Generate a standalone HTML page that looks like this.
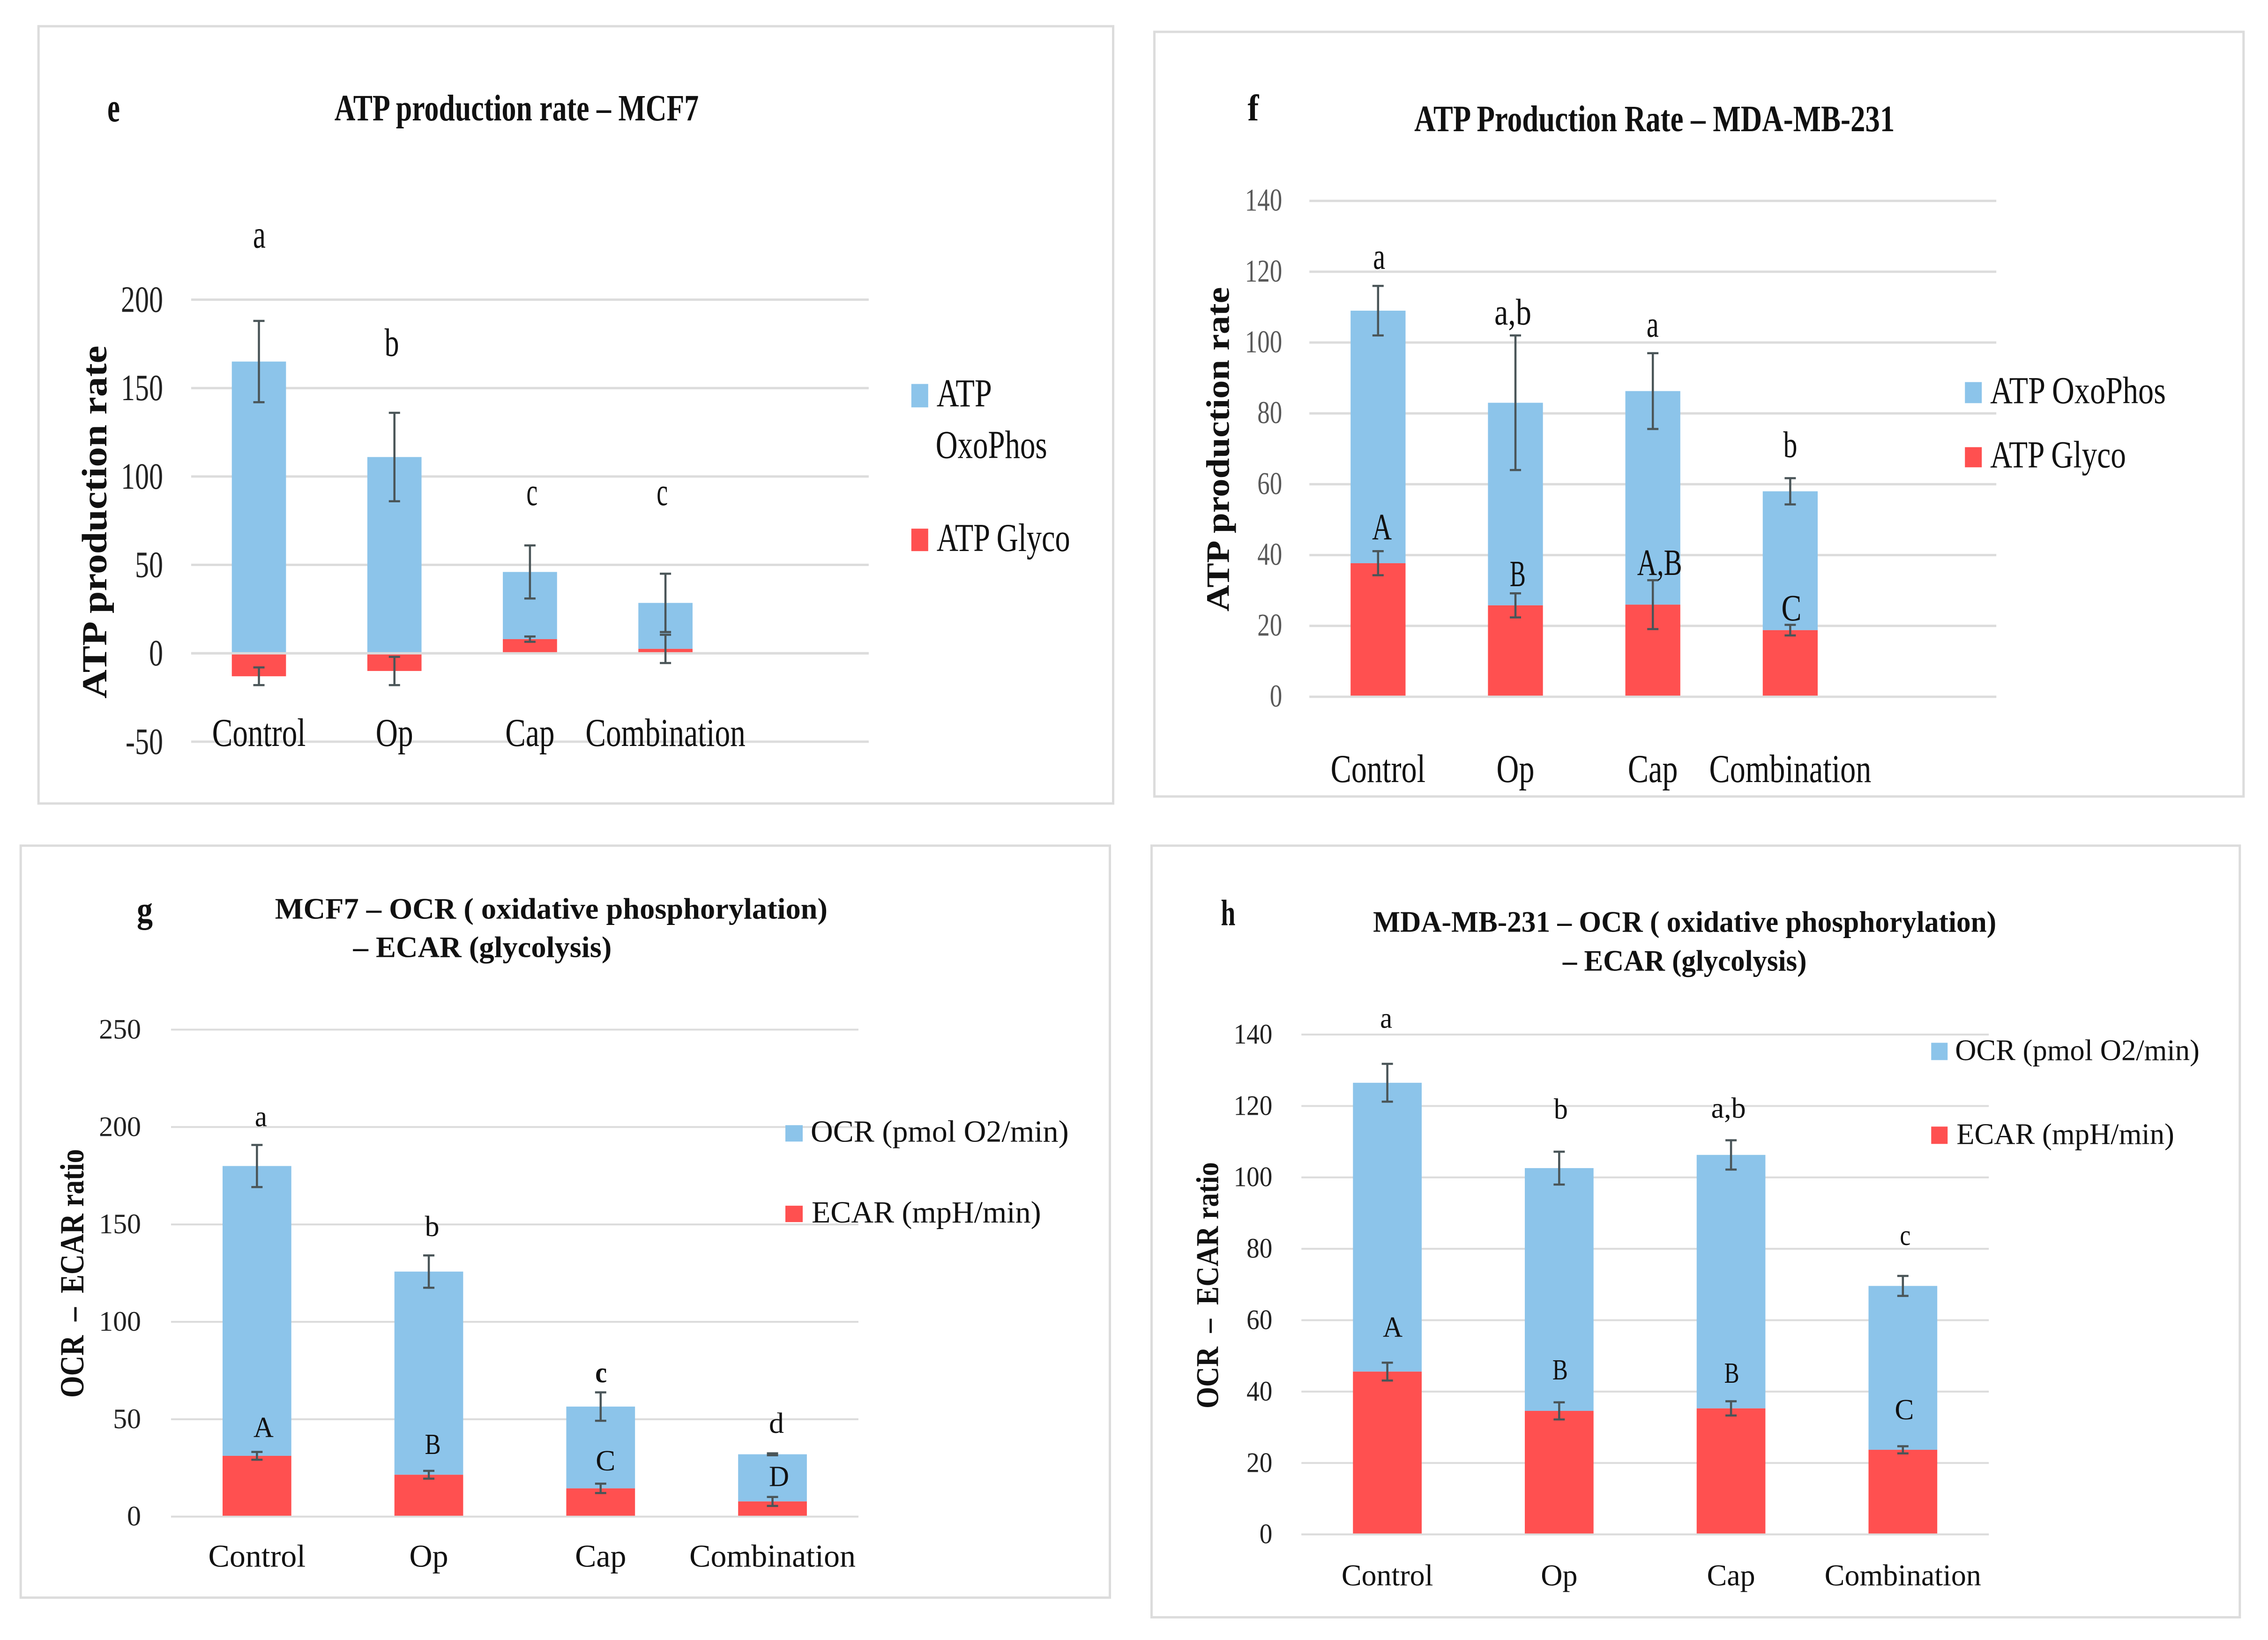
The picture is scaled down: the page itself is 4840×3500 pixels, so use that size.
<!DOCTYPE html>
<html lang="en">
<head>
<meta charset="utf-8">
<title>ATP production rate and OCR / ECAR panels</title>
<style>
html,body{margin:0;padding:0;background:#fff;width:4840px;height:3500px;overflow:hidden}
svg{display:block}
text{font-family:"Liberation Serif","DejaVu Serif",serif;fill:#111}
.b{font-weight:bold}
</style>
</head>
<body>
<svg id="figure" xmlns="http://www.w3.org/2000/svg" width="4840" height="3500" viewBox="0 0 4843 3502.5">
<rect x="0" y="0" width="4843" height="3503" fill="#fff"/>

<!-- Panel e -->
<g>
<rect x="82" y="56" width="2295" height="1660" fill="#fff" stroke="#dcdcdc" stroke-width="5"/>
<g id="plot-e"></g>
<text class="b" x="229" y="259" font-size="88" textLength="27" lengthAdjust="spacingAndGlyphs">e</text>
<text class="b" x="714" y="257" font-size="80" textLength="778" lengthAdjust="spacingAndGlyphs">ATP production rate – MCF7</text>
<text class="b" transform="translate(227,1492) rotate(-90)" font-size="75" textLength="754" lengthAdjust="spacingAndGlyphs">ATP production rate</text>
<text x="540" y="529" font-size="85" textLength="27" lengthAdjust="spacingAndGlyphs">a</text>
<text x="821" y="760" font-size="85" textLength="31" lengthAdjust="spacingAndGlyphs">b</text>
<text x="1124" y="1079" font-size="85" textLength="24" lengthAdjust="spacingAndGlyphs">c</text>
<text x="1402" y="1079" font-size="85" textLength="24" lengthAdjust="spacingAndGlyphs">c</text>
<rect x="1946" y="820" width="36" height="50" fill="#8cc4ea"/>
<text x="2000" y="868" font-size="85" textLength="118" lengthAdjust="spacingAndGlyphs">ATP</text>
<text x="1998" y="978" font-size="85" textLength="238" lengthAdjust="spacingAndGlyphs">OxoPhos</text>
<rect x="1946" y="1129" width="36" height="48" fill="#ff5050"/>
<text x="2000" y="1177" font-size="85" textLength="285" lengthAdjust="spacingAndGlyphs">ATP Glyco</text>
</g>

<!-- Panel f -->
<g>
<rect x="2465" y="68" width="2326" height="1633" fill="#fff" stroke="#dcdcdc" stroke-width="5"/>
<g id="plot-f"></g>
<text class="b" x="2664" y="257" font-size="80" textLength="24" lengthAdjust="spacingAndGlyphs">f</text>
<text class="b" x="3020" y="280" font-size="80" textLength="1026" lengthAdjust="spacingAndGlyphs">ATP Production Rate – MDA-MB-231</text>
<text class="b" transform="translate(2624,1306) rotate(-90)" font-size="70" textLength="693" lengthAdjust="spacingAndGlyphs">ATP production rate</text>
<text x="2932" y="574" font-size="80" textLength="26" lengthAdjust="spacingAndGlyphs">a</text>
<text x="3191" y="693" font-size="80" textLength="79" lengthAdjust="spacingAndGlyphs">a,b</text>
<text x="3516" y="719" font-size="80" textLength="26" lengthAdjust="spacingAndGlyphs">a</text>
<text x="3808" y="976" font-size="80" textLength="30" lengthAdjust="spacingAndGlyphs">b</text>
<text x="2930" y="1152" font-size="80" textLength="42" lengthAdjust="spacingAndGlyphs">A</text>
<text x="3224" y="1252" font-size="80" textLength="34" lengthAdjust="spacingAndGlyphs">B</text>
<text x="3496" y="1228" font-size="80" textLength="96" lengthAdjust="spacingAndGlyphs">A,B</text>
<text x="3804" y="1325" font-size="80" textLength="43" lengthAdjust="spacingAndGlyphs">C</text>
<rect x="4196" y="816" width="36" height="45" fill="#8cc4ea"/>
<text x="4250" y="861" font-size="82" textLength="375" lengthAdjust="spacingAndGlyphs">ATP OxoPhos</text>
<rect x="4196" y="955" width="36" height="43" fill="#ff5050"/>
<text x="4250" y="998" font-size="82" textLength="290" lengthAdjust="spacingAndGlyphs">ATP Glyco</text>
</g>

<!-- Panel g -->
<g>
<rect x="44" y="1806" width="2326" height="1606" fill="#fff" stroke="#dcdcdc" stroke-width="5"/>
<g id="plot-g"></g>
<text class="b" x="292" y="1969" font-size="78" textLength="34" lengthAdjust="spacingAndGlyphs">g</text>
<text class="b" x="587" y="1962" font-size="64" textLength="1180" lengthAdjust="spacingAndGlyphs">MCF7 – OCR ( oxidative phosphorylation)</text>
<text class="b" x="754" y="2044" font-size="64" textLength="552" lengthAdjust="spacingAndGlyphs">– ECAR (glycolysis)</text>
<text class="b" transform="translate(178,2985) rotate(-90)" font-size="72" textLength="531" lengthAdjust="spacingAndGlyphs">OCR&#160;&#160;–&#160;&#160;ECAR ratio</text>
<text x="544" y="2405" font-size="62" textLength="26" lengthAdjust="spacingAndGlyphs">a</text>
<text x="907" y="2640" font-size="62" textLength="31" lengthAdjust="spacingAndGlyphs">b</text>
<text class="b" x="1271" y="2952" font-size="62" textLength="25" lengthAdjust="spacingAndGlyphs">c</text>
<text x="1642" y="3060" font-size="62" textLength="32" lengthAdjust="spacingAndGlyphs">d</text>
<text x="541" y="3069" font-size="62" textLength="43" lengthAdjust="spacingAndGlyphs">A</text>
<text x="907" y="3105" font-size="62" textLength="34" lengthAdjust="spacingAndGlyphs">B</text>
<text x="1272" y="3140" font-size="62" textLength="42" lengthAdjust="spacingAndGlyphs">C</text>
<text x="1642" y="3174" font-size="62" textLength="43" lengthAdjust="spacingAndGlyphs">D</text>
<rect x="1677" y="2403" width="37" height="35" fill="#8cc4ea"/>
<text x="1731" y="2438" font-size="66" textLength="551" lengthAdjust="spacingAndGlyphs">OCR (pmol O2/min)</text>
<rect x="1677" y="2575" width="37" height="35" fill="#ff5050"/>
<text x="1733" y="2611" font-size="66" textLength="490" lengthAdjust="spacingAndGlyphs">ECAR (mpH/min)</text>
</g>

<!-- Panel h -->
<g>
<rect x="2459" y="1806" width="2324" height="1648" fill="#fff" stroke="#dcdcdc" stroke-width="5"/>
<g id="plot-h"></g>
<text class="b" x="2607" y="1976" font-size="78" textLength="31" lengthAdjust="spacingAndGlyphs">h</text>
<text class="b" x="2932" y="1990" font-size="64" textLength="1331" lengthAdjust="spacingAndGlyphs">MDA-MB-231 – OCR ( oxidative phosphorylation)</text>
<text class="b" x="3337" y="2073" font-size="64" textLength="521" lengthAdjust="spacingAndGlyphs">– ECAR (glycolysis)</text>
<text class="b" transform="translate(2601,3008) rotate(-90)" font-size="68" textLength="526" lengthAdjust="spacingAndGlyphs">OCR&#160;&#160;–&#160;&#160;ECAR ratio</text>
<text x="2947" y="2195" font-size="62" textLength="26" lengthAdjust="spacingAndGlyphs">a</text>
<text x="3318" y="2389" font-size="62" textLength="30" lengthAdjust="spacingAndGlyphs">b</text>
<text x="3654" y="2387" font-size="62" textLength="74" lengthAdjust="spacingAndGlyphs">a,b</text>
<text x="4057" y="2659" font-size="62" textLength="23" lengthAdjust="spacingAndGlyphs">c</text>
<text x="2953" y="2855" font-size="62" textLength="42" lengthAdjust="spacingAndGlyphs">A</text>
<text x="3315" y="2946" font-size="62" textLength="33" lengthAdjust="spacingAndGlyphs">B</text>
<text x="3682" y="2953" font-size="62" textLength="32" lengthAdjust="spacingAndGlyphs">B</text>
<text x="4046" y="3031" font-size="62" textLength="41" lengthAdjust="spacingAndGlyphs">C</text>
<rect x="4124" y="2227" width="35" height="37" fill="#8cc4ea"/>
<text x="4175" y="2264" font-size="64" textLength="522" lengthAdjust="spacingAndGlyphs">OCR (pmol O2/min)</text>
<rect x="4124" y="2406" width="35" height="37" fill="#ff5050"/>
<text x="4178" y="2443" font-size="64" textLength="465" lengthAdjust="spacingAndGlyphs">ECAR (mpH/min)</text>
</g>
</svg>

<script>
const categories = ['Control', 'Op', 'Cap', 'Combination'];

const eTicks = [-50, 0, 50, 100, 150, 200];
const eUpper = [165, 111, 38, 26];
const eLower = [-13, -10, 8, 2.5];
const eUpperErr = [23, 25, 15, 16.5];
const eLowerErr = [5, 8, 1.5, 8];

const fTicks = [0, 20, 40, 60, 80, 100, 120, 140];
const fUpper = [71.3, 57.2, 60.3, 39.2];
const fLower = [37.7, 25.8, 26, 18.8];
const fUpperErr = [7, 19, 10.7, 3.7];
const fLowerErr = [3.4, 3.4, 6.9, 1.5];

const gTicks = [0, 50, 100, 150, 200, 250];
const gUpper = [148.8, 104.3, 42, 24.2];
const gLower = [31.2, 21.5, 14.5, 7.8];
const gUpperErr = [10.8, 8.3, 7.3, 0.5];
const gLowerErr = [2, 2, 2.4, 2.3];

const hTicks = [0, 20, 40, 60, 80, 100, 120, 140];
const hUpper = [80.9, 68, 71, 45.9];
const hLower = [45.6, 34.6, 35.3, 23.7];
const hUpperErr = [5.3, 4.6, 4.1, 2.8];
const hLowerErr = [2.5, 2.4, 2, 1];

const NS = 'http://www.w3.org/2000/svg';

function svgEl(parent, tag) {
  const el = document.createElementNS(NS, tag);
  parent.appendChild(el);
  return el;
}

function drawChart(id, c) {
  const root = document.getElementById(id);
  const y = v => c.yBottom + (v - c.yMin) / (c.yMax - c.yMin) * (c.yTop - c.yBottom);
  const band = (c.right - c.left) / c.bands;
  const x = i => c.left + band * (i + 0.5);
  const barW = band * 0.4;

  c.ticks.forEach(t => {
    const line = svgEl(root, 'line');
    
    
    line.setAttribute('x1', c.left);
    line.setAttribute('x2', c.right);
    line.setAttribute('y1', y(t));
    line.setAttribute('y2', y(t));
    line.setAttribute('stroke', '#dcdcdc');
    line.setAttribute('stroke-width', c.gridWidth);

    const label = svgEl(root, 'text');
    
    
    label.setAttribute('transform', 'translate(' + c.tickX + ',' + (y(t) + c.tickDy) + ') scale(' + c.tickScale + ',1)');
    label.setAttribute('text-anchor', 'end');
    label.setAttribute('font-size', c.tickSize);
    label.style.fill = c.tickColor;
    label.textContent = String(t);
  });

  c.cats.forEach((name, i) => {
    const lo = c.lower[i];
    const up = c.upper[i];
    const base = Math.max(lo, 0);
    const top = base + up;

    const upperBar = svgEl(root, 'rect');
    
    
    upperBar.setAttribute('x', x(i) - barW / 2);
    upperBar.setAttribute('width', barW);
    upperBar.setAttribute('y', y(top));
    upperBar.setAttribute('height', y(base) - y(top));
    upperBar.setAttribute('fill', '#8cc4ea');

    const lowerBar = svgEl(root, 'rect');
    
    
    lowerBar.setAttribute('x', x(i) - barW / 2);
    lowerBar.setAttribute('width', barW);
    lowerBar.setAttribute('y', Math.min(y(lo), y(0)));
    lowerBar.setAttribute('height', Math.abs(y(lo) - y(0)));
    lowerBar.setAttribute('fill', '#ff5050');

    const cat = svgEl(root, 'text');
    
    
    cat.setAttribute('transform', 'translate(' + x(i) + ',' + c.catY + ') scale(' + c.catScale + ',1)');
    cat.setAttribute('text-anchor', 'middle');
    cat.setAttribute('font-size', c.catSize);
    cat.textContent = name;
  });

  const zero = svgEl(root, 'line');
  
  
  zero.setAttribute('x1', c.left);
  zero.setAttribute('x2', c.right);
  zero.setAttribute('y1', y(0));
  zero.setAttribute('y2', y(0));
  zero.setAttribute('stroke', '#dcdcdc');
  zero.setAttribute('stroke-width', c.gridWidth);

  c.cats.forEach((name, i) => {
    const lo = c.lower[i];
    const base = Math.max(lo, 0);
    const top = base + c.upper[i];
    [[top, c.upperErr[i], 'upper'], [lo, c.lowerErr[i], 'lower']].forEach(item => {
      const center = item[0];
      const err = item[1];
      const path = svgEl(root, 'path');
      
      
      const cx = x(i);
      const y1 = y(center + err);
      const y2 = y(center - err);
      path.setAttribute('d', 'M' + cx + ' ' + y1 + 'V' + y2 + 'M' + (cx - 12) + ' ' + y1 + 'H' + (cx + 12) + 'M' + (cx - 12) + ' ' + y2 + 'H' + (cx + 12));
      path.setAttribute('stroke', '#4a5558');
      path.setAttribute('stroke-width', 4.5);
      path.setAttribute('fill', 'none');
    });
  });
}

drawChart('plot-e', {
  cats: categories, ticks: eTicks, upper: eUpper, lower: eLower, upperErr: eUpperErr, lowerErr: eLowerErr,
  left: 408, right: 1855, bands: 5, yBottom: 1584, yTop: 640, yMin: -50, yMax: 200,
  gridWidth: 5, tickX: 348, tickDy: 26, tickSize: 80, tickScale: 0.75, tickColor: '#222',
  catY: 1593, catSize: 85, catScale: 0.77
});
drawChart('plot-f', {
  cats: categories, ticks: fTicks, upper: fUpper, lower: fLower, upperErr: fUpperErr, lowerErr: fLowerErr,
  left: 2796, right: 4263, bands: 5, yBottom: 1488, yTop: 429, yMin: 0, yMax: 140,
  gridWidth: 5, tickX: 2738, tickDy: 21, tickSize: 68, tickScale: 0.78, tickColor: '#595959',
  catY: 1670, catSize: 85, catScale: 0.78
});
drawChart('plot-g', {
  cats: categories, ticks: gTicks, upper: gUpper, lower: gLower, upperErr: gUpperErr, lowerErr: gLowerErr,
  left: 365, right: 1833, bands: 4, yBottom: 3239, yTop: 2199, yMin: 0, yMax: 250,
  gridWidth: 4, tickX: 301, tickDy: 19, tickSize: 60, tickScale: 1, tickColor: '#222',
  catY: 3346, catSize: 68, catScale: 1
});
drawChart('plot-h', {
  cats: categories, ticks: hTicks, upper: hUpper, lower: hLower, upperErr: hUpperErr, lowerErr: hLowerErr,
  left: 2779, right: 4247, bands: 4, yBottom: 3277, yTop: 2209.5, yMin: 0, yMax: 140,
  gridWidth: 4, tickX: 2717, tickDy: 19, tickSize: 60, tickScale: 0.92, tickColor: '#222',
  catY: 3386, catSize: 65, catScale: 0.985
});
</script>
</body>
</html>
